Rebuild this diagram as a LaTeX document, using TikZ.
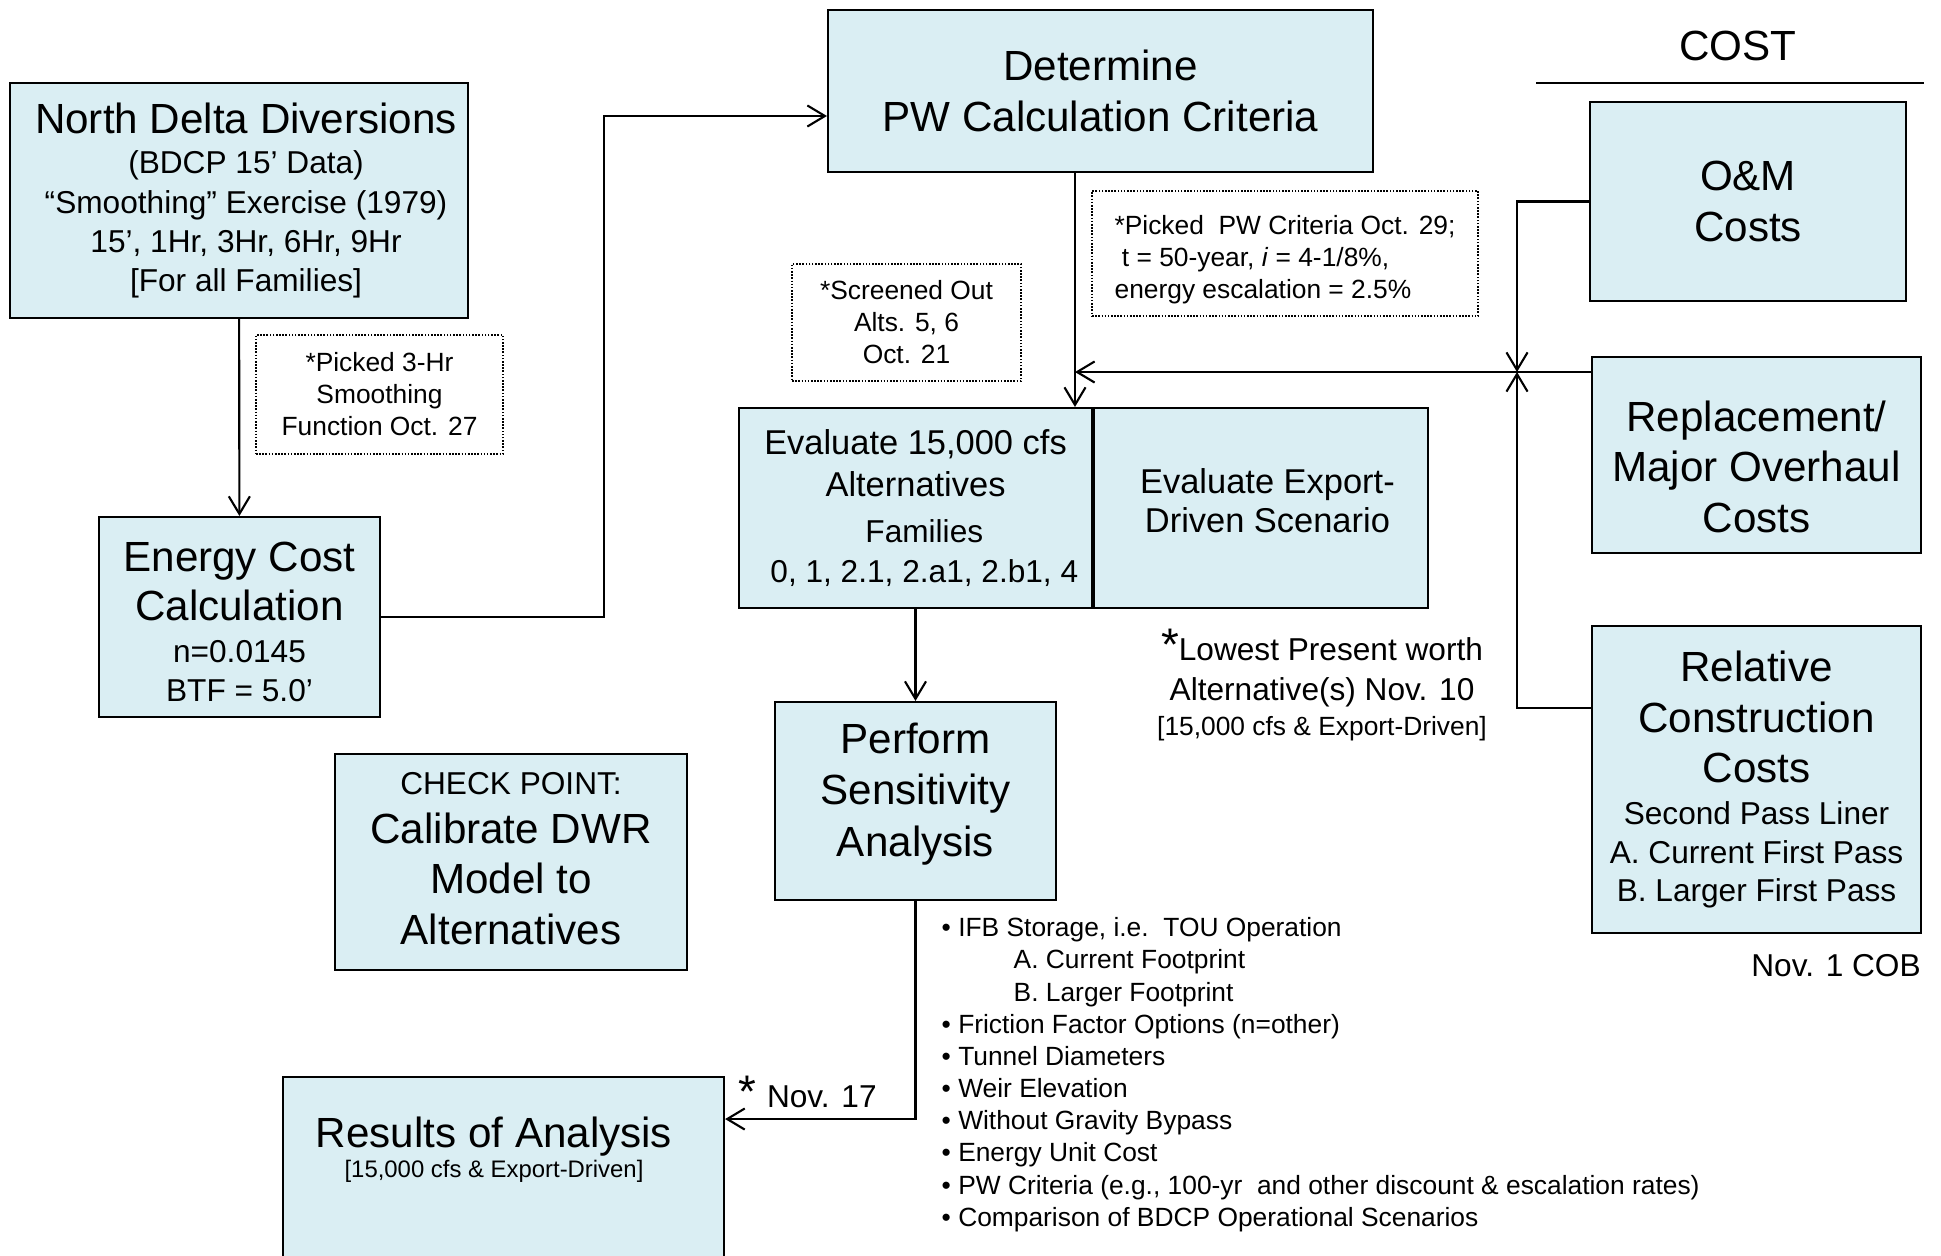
\documentclass[tikz,border=0pt]{standalone}
\usepackage{fontspec}
\setmainfont{Liberation Sans}
\usetikzlibrary{arrows.meta,positioning}

\definecolor{boxfill}{HTML}{DAEEF3}

% font sizes used in the chart
\newcommand\titlefont{\fontsize{12}{14.6}\selectfont}
\newcommand\evalfont{\fontsize{9.8}{12}\selectfont}
\newcommand\subfont{\fontsize{9}{11.2}\selectfont}
\newcommand\notefont{\fontsize{7.5}{9.1}\selectfont}
\newcommand\tinyfont{\fontsize{6.8}{8.2}\selectfont}
\newcommand\bigstar{{\fontsize{13}{13}\selectfont *}}

\tikzset{
  box/.style={draw=black, line width=0.6pt, fill=boxfill, inner sep=0pt, align=center},
  note/.style={draw=black, line width=0.5pt, dash pattern=on 0.45pt off 0.45pt, inner sep=0pt, align=center, font=\notefont},
  link/.style={line width=0.6pt, -{Straight Barb[length=5pt,width=6pt]}},
}

\begin{document}
\begin{tikzpicture}[x=1cm, y=1cm]
  \useasboundingbox (0,0) rectangle (19.41,-12.55);

  % Input data and energy cost
  \node [box, minimum width=4.58cm, minimum height=2.35cm, font=\subfont] (nd) at (2.39,-2.005)
    {\hspace*{4pt}\titlefont North Delta Diversions\\[0.4pt] \hspace*{4pt}(BDCP 15’ Data)\\ \hspace*{4pt}“Smoothing” Exercise (1979)\\ \hspace*{4pt}15’, 1Hr, 3Hr, 6Hr, 9Hr\\ \hspace*{4pt}{[}For all Families{]}};
  \node [note, minimum width=2.47cm, minimum height=1.19cm] (note3hr) at (3.795,-3.945)
    {*Picked 3-Hr\\ Smoothing\\ Function Oct. 27};
  \node [box, minimum width=2.81cm, minimum height=2.00cm, font=\fontsize{12}{14.1}\selectfont] (energy) at (2.395,-6.17)
    {\rule{0pt}{11pt}Energy Cost\\ Calculation\\[-2.2pt] \subfont n=0.0145\\[-3.2pt] \subfont BTF = 5.0’};

  % PW criteria
  \node [box, minimum width=5.45cm, minimum height=1.62cm, font=\titlefont] (pw) at (11.005,-0.91)
    {Determine\\ PW Calculation Criteria};
  \node [note, minimum width=3.86cm, minimum height=1.25cm, align=left] (notepw) at (12.85,-2.535)
    {\rule{0pt}{9pt}*Picked\ \ PW Criteria Oct. 29;\\ \ t = 50-year, \textit{i} = 4-1/8\%,\\ energy escalation = 2.5\%};
  \node [note, minimum width=2.29cm, minimum height=1.17cm] (notescreen) at (9.065,-3.225)
    {*Screened Out\\ Alts. 5, 6\\ Oct. 21};

  % Evaluation of the alternatives
  \node [box, minimum width=3.53cm, minimum height=2.00cm, font=\evalfont] (evalalt) at (9.155,-5.08)
    {Evaluate 15,000 cfs\\ Alternatives\\[1.1pt] \hspace*{5pt}\subfont Families\\[-0.7pt] \hspace*{5pt}\subfont 0, 1, 2.1, 2.a1, 2.b1, 4};
  \node [box, minimum width=3.34cm, minimum height=2.00cm, font=\fontsize{9.8}{11.3}\selectfont, right=0pt of evalalt] (evalexp)
    {\hspace*{3.6pt}Evaluate Export-\\ \hspace*{3.6pt}Driven Scenario\rule[-4.2pt]{0pt}{1pt}};
  \node [align=center, anchor=north, inner sep=0pt, font=\fontsize{9}{11.6}\selectfont] (lowest) at (13.22,-6.28)
    {\bigstar Lowest Present worth\\ Alternative(s) Nov. 10\\[-1.9pt] \notefont {[}15,000 cfs \& Export-Driven{]}};

  \node [box, minimum width=2.81cm, minimum height=1.98cm, font=\titlefont] (perform) at (9.155,-8.01)
    {Perform\\ Sensitivity\\ Analysis\rule[-6.5pt]{0pt}{1pt}};
  \node [box, minimum width=3.52cm, minimum height=2.16cm, font=\fontsize{12}{14.4}\selectfont] (checkpt) at (5.11,-8.62)
    {\subfont CHECK POINT:\\[-0.6pt] Calibrate DWR\\ Model to\\ Alternatives\rule[-2.1pt]{0pt}{1pt}};

  % Sensitivity options
  \node [anchor=north west, align=left, inner sep=0pt, font=\fontsize{7.5}{9.15}\selectfont] (options) at (9.41,-9.17)
    {• IFB Storage, i.e.\ \ TOU Operation\\
     \hspace{0.72cm}A. Current Footprint\\
     \hspace{0.72cm}B. Larger Footprint\\
     • Friction Factor Options (n=other)\\
     • Tunnel Diameters\\
     • Weir Elevation\\
     • Without Gravity Bypass\\
     • Energy Unit Cost\\
     • PW Criteria (e.g., 100-yr\ \ and other discount \& escalation rates)\\
     • Comparison of BDCP Operational Scenarios};

  % Results
  \node [box, minimum width=4.41cm, minimum height=2.0cm, anchor=north west] (results) at (2.82,-10.76) {};
  \node [align=center, anchor=north, inner sep=0pt, font=\titlefont] (restext) at (4.94,-11.16)
    {Results of Analysis\\[-5.9pt] \tinyfont {[}15,000 cfs \& Export-Driven{]}};
  \node [font=\subfont, anchor=base west, inner sep=0pt] (nov17) at (7.38,-11.07) {\bigstar\hspace{3pt}Nov. 17};

  % Cost column
  \node [font=\titlefont] (costhead) at (17.38,-0.46) {COST};
  \draw [line width=0.5pt] (15.36,-0.83) -- (19.24,-0.83);
  \node [box, minimum width=3.16cm, minimum height=1.99cm, font=\titlefont] (om) at (17.48,-2.015)
    {O\&M\\ Costs};
  \node [box, minimum width=3.29cm, minimum height=1.96cm, font=\fontsize{12}{14.3}\selectfont] (replace) at (17.565,-4.55)
    {\rule{0pt}{15.4pt}Replacement/\\ Major Overhaul\\ Costs};
  \node [box, minimum width=3.29cm, minimum height=3.07cm, font=\fontsize{12}{14.4}\selectfont] (relative) at (17.565,-7.795)
    {Relative\\ Construction\\ Costs\\[-2.5pt] \subfont Second Pass Liner\\[-3.5pt] \subfont A. Current First Pass\\[-3.5pt] \subfont B. Larger First Pass\rule[-1.5pt]{0pt}{1pt}};
  \node [font=\subfont] (cob) at (18.36,-9.66) {Nov. 1 COB};

  % Connectors
  \coordinate (bendlow) at (6.04,-6.17);
  \coordinate (bendhigh) at (6.04,-1.16);
  \coordinate (pwdrop) at (10.75,0);
  \coordinate (junction) at (15.17,-3.72);
  \coordinate (relbend) at (15.17,-7.08);
  \coordinate (resbend) at (9.155,-11.19);

  \draw [link] (nd) -- (energy);
  \draw [link] (energy.east) -- (bendlow) -- (bendhigh) -- (pw.west |- bendhigh);
  \draw [link] (pw.south -| pwdrop) -- (evalalt.north -| pwdrop);
  \draw [link] (replace.west |- junction) -- (pwdrop |- junction);
  \draw [link] (om.west) -- (om.west -| junction) -- (junction);
  \draw [link] (relative.west |- relbend) -- (relbend) -- (junction);
  \draw [link] (evalalt) -- (perform);
  \draw [link] (perform.south) -- (resbend) -- (results.east |- resbend);
\end{tikzpicture}
\end{document}
